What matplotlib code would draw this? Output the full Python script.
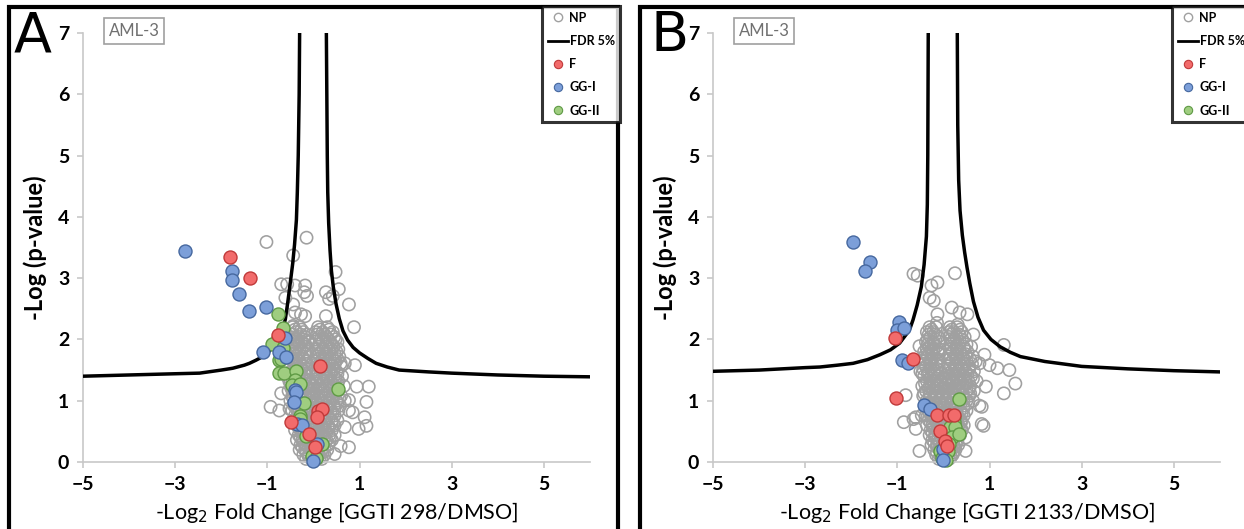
import matplotlib
matplotlib.use("Agg")
import matplotlib.pyplot as plt
from matplotlib.lines import Line2D
from matplotlib.patches import Rectangle

# ---- data -----------------------------------------------------------------
# colored hits, (x, y) = (-log2 FC, -log p)
f_a = [(-1.82, 3.35), (-1.37, 3.01), (-0.76, 2.07), (0.15, 1.57), (-0.48, 0.66),
       (0.10, 0.84), (0.18, 0.87), (0.08, 0.74), (-0.09, 0.46), (0.03, 0.24)]
ggi_a = [(-2.79, 3.45), (-1.76, 3.12), (-1.76, 2.97), (-1.61, 2.74), (-1.39, 2.46),
         (-1.02, 2.53), (-1.10, 1.80), (-0.61, 2.02), (-0.74, 1.80), (-0.59, 1.72),
         (-0.40, 1.17), (-0.37, 1.14), (-0.42, 0.98), (-0.35, 0.62), (-0.25, 0.61),
         (0.08, 0.29), (-0.01, 0.02)]
ggii_a = [(-0.77, 2.42), (-0.65, 2.18), (-0.78, 2.02), (-0.71, 1.97), (-0.90, 1.92),
          (-0.65, 1.86), (-0.74, 1.67), (-0.71, 1.68), (-0.74, 1.46), (-0.63, 1.46),
          (-0.37, 1.48), (-0.40, 1.34), (-0.46, 1.26), (-0.30, 1.28), (-0.20, 0.97),
          (-0.29, 0.75), (-0.29, 0.70), (-0.17, 0.43), (0.18, 0.29), (-0.04, 0.09),
          (0.06, 0.06), (0.53, 1.19)]

f_b = [(-1.06, 2.02), (-0.65, 1.68), (-1.04, 1.05), (-0.15, 0.77), (0.12, 0.77),
       (0.22, 0.76), (-0.08, 0.51), (0.03, 0.35), (0.07, 0.26)]
ggi_b = [(-1.96, 3.59), (-1.59, 3.27), (-1.70, 3.12), (-0.97, 2.29), (-1.00, 2.16),
         (-0.86, 2.19), (-0.91, 1.67), (-0.78, 1.61), (-0.42, 0.93), (-0.30, 0.87),
         (-0.02, 0.21), (-0.02, 0.04)]
ggii_b = [(0.33, 1.03), (0.22, 0.73), (0.22, 0.65), (0.15, 0.57), (0.25, 0.57),
          (0.18, 0.40), (0.33, 0.45), (0.13, 0.29), (-0.08, 0.18), (0.01, 0.13),
          (0.09, 0.18), (-0.04, 0.07), (0.05, 0.04)]

# non-significant proteins: scattered outliers + the dense cloud (row: y, xs)
np_a_out = [(-1.02, 3.59), (-0.15, 3.66), (-0.44, 3.37), (0.48, 3.10), (-0.70, 2.90),
            (-0.57, 2.90), (-0.40, 2.88), (-0.18, 2.88), (-0.20, 2.77), (-0.14, 2.71),
            (0.27, 2.77), (0.34, 2.66), (0.42, 2.71), (0.55, 2.82), (0.77, 2.57),
            (-0.61, 2.68), (-0.44, 2.57), (-0.40, 2.44), (-0.27, 2.41), (-0.18, 2.38),
            (0.27, 2.38), (0.88, 2.20), (-0.44, 2.22), (0.59, 1.61), (0.68, 1.61),
            (0.90, 1.58), (0.94, 1.23), (1.20, 1.23), (1.15, 0.98), (0.77, 1.01),
            (0.77, 0.84), (0.85, 0.81), (1.11, 0.73), (1.15, 0.59), (0.98, 0.54),
            (0.68, 0.57), (0.77, 0.24), (0.59, 0.26), (0.46, 0.13), (-0.93, 0.90),
            (-0.74, 0.84), (-0.52, 0.87), (-0.70, 1.12), (-0.52, 1.31)]
np_a_rows = [
    (2.20, [-0.45, -0.30, 0.10, 0.30]),
    (2.16, [-0.40, -0.26, 0.14, 0.34]),
    (2.12, [-0.38, -0.22, 0.05, 0.20, 0.42]),
    (2.08, [-0.44, -0.28, -0.14, 0.08, 0.24, 0.38]),
    (2.04, [-0.50, -0.32, -0.18, 0.12, 0.28, 0.45]),
    (2.00, [-0.36, -0.20, 0.06, 0.16, 0.32, 0.48]),
    (1.96, [-0.42, -0.26, -0.12, 0.04, 0.20, 0.36, 0.52]),
    (1.92, [-0.48, -0.32, -0.18, 0.12, 0.28, 0.40]),
    (1.88, [-0.55, -0.36, -0.20, 0.10, 0.26, 0.44]),
    (1.84, [-0.40, -0.26, -0.12, 0.08, 0.22, 0.38, 0.54]),
    (1.80, [-0.46, -0.30, -0.14, 0.06, 0.18, 0.34, 0.50]),
    (1.76, [-0.44, -0.32, -0.18, 0.12, 0.28, 0.46]),
    (1.72, [-0.52, -0.38, -0.24, 0.08, 0.24, 0.40, 0.56]),
    (1.68, [-0.48, -0.36, -0.22, 0.10, 0.20, 0.36, 0.52]),
    (1.64, [-0.44, -0.30, -0.16, 0.06, 0.16, 0.32, 0.48]),
    (1.60, [-0.40, -0.28, -0.14, 0.08, 0.20, 0.34, 0.46]),
    (1.56, [-0.56, -0.36, -0.22, 0.10, 0.24, 0.40, 0.60]),
    (1.52, [-0.52, -0.40, -0.26, -0.14, 0.14, 0.28, 0.44]),
    (1.48, [-0.48, -0.32, -0.18, 0.06, 0.20, 0.34, 0.50]),
    (1.44, [-0.44, -0.30, -0.20, 0.08, 0.22, 0.38, 0.52]),
    (1.40, [-0.58, -0.40, -0.26, -0.14, 0.14, 0.28, 0.44, 0.62]),
    (1.36, [-0.46, -0.32, -0.18, 0.06, 0.18, 0.32, 0.48]),
    (1.32, [-0.50, -0.34, -0.20, 0.08, 0.22, 0.38, 0.54]),
    (1.28, [-0.38, -0.24, -0.10, 0.04, 0.18, 0.34, 0.52]),
    (1.24, [-0.44, -0.28, -0.14, 0.00, 0.14, 0.30, 0.46, 0.66]),
    (1.20, [-0.48, -0.30, -0.16, -0.02, 0.10, 0.26, 0.42]),
    (1.16, [-0.54, -0.36, -0.22, -0.08, 0.06, 0.20, 0.36, 0.52]),
    (1.12, [-0.40, -0.26, -0.12, 0.02, 0.16, 0.32, 0.46]),
    (1.08, [-0.46, -0.30, -0.16, -0.02, 0.12, 0.26, 0.42, 0.60]),
    (1.04, [-0.44, -0.30, -0.18, -0.04, 0.10, 0.24, 0.40, 0.56]),
    (1.00, [-0.50, -0.38, -0.24, -0.10, 0.04, 0.18, 0.34, 0.50, 0.68]),
    (0.96, [-0.34, -0.20, -0.06, 0.08, 0.22, 0.36, 0.52]),
    (0.92, [-0.42, -0.28, -0.14, 0.00, 0.14, 0.28, 0.44, 0.58]),
    (0.88, [-0.38, -0.26, -0.12, 0.04, 0.18, 0.32, 0.46]),
    (0.84, [-0.46, -0.34, -0.20, -0.06, 0.08, 0.22, 0.38, 0.54]),
    (0.80, [-0.32, -0.18, -0.02, 0.12, 0.26, 0.42]),
    (0.76, [-0.40, -0.26, -0.12, 0.02, 0.16, 0.30, 0.46]),
    (0.72, [-0.36, -0.22, -0.08, 0.06, 0.20, 0.34]),
    (0.68, [-0.44, -0.30, -0.16, -0.04, 0.10, 0.24, 0.40, 0.52]),
    (0.64, [-0.30, -0.16, -0.02, 0.12, 0.26, 0.40]),
    (0.60, [-0.36, -0.22, -0.10, 0.04, 0.18, 0.32, 0.46]),
    (0.56, [-0.32, -0.18, -0.06, 0.08, 0.20, 0.34]),
    (0.52, [-0.40, -0.26, -0.14, 0.00, 0.12, 0.26, 0.40]),
    (0.48, [-0.26, -0.12, 0.02, 0.16, 0.28]),
    (0.44, [-0.32, -0.20, -0.06, 0.08, 0.20, 0.34, 0.46]),
    (0.40, [-0.28, -0.16, -0.02, 0.12, 0.24, 0.36]),
    (0.36, [-0.36, -0.24, -0.12, 0.02, 0.14, 0.28, 0.40]),
    (0.32, [-0.22, -0.08, 0.04, 0.16, 0.26]),
    (0.28, [-0.28, -0.16, -0.04, 0.08, 0.20, 0.32]),
    (0.24, [-0.24, -0.10, 0.02, 0.14, 0.24]),
    (0.20, [-0.30, -0.18, -0.06, 0.06, 0.18, 0.30]),
    (0.16, [-0.16, -0.02, 0.10, 0.20]),
    (0.12, [-0.22, -0.10, 0.02, 0.12, 0.24]),
    (0.08, [-0.10, 0.02, 0.14]),
    (0.05, [-0.16, -0.04, 0.08, 0.18]),
]

np_b_out = [(-0.65, 3.07), (-0.56, 3.04), (0.25, 3.08), (-0.13, 2.93), (-0.26, 2.88),
            (-0.30, 2.68), (-0.21, 2.63), (-0.13, 2.41), (-0.14, 2.27), (0.18, 2.52),
            (0.35, 2.44), (0.52, 2.41), (0.31, 2.24), (0.65, 2.08), (1.31, 1.91),
            (0.89, 1.75), (0.78, 1.61), (1.00, 1.58), (1.17, 1.53), (1.43, 1.50),
            (1.56, 1.28), (1.31, 1.12), (0.92, 1.23), (0.78, 0.92), (0.83, 0.90),
            (0.83, 0.62), (0.87, 0.59), (0.48, 0.40), (-0.86, 0.65), (-0.82, 1.09),
            (-0.60, 0.73), (-0.65, 0.70), (-0.47, 0.76), (-0.60, 0.54), (-0.52, 0.18),
            (0.48, 0.18), (-0.52, 1.89)]
np_b_rows = [
    (2.20, [-0.30, -0.16, 0.14, 0.30]),
    (2.16, [-0.26, 0.18, 0.36]),
    (2.12, [-0.36, -0.22, 0.12, 0.22, 0.40]),
    (2.08, [-0.32, -0.18, 0.16, 0.34]),
    (2.04, [-0.28, -0.12, 0.12, 0.28, 0.46]),
    (2.00, [-0.34, -0.18, 0.16, 0.24, 0.40]),
    (1.96, [-0.38, -0.22, -0.08, 0.20, 0.36]),
    (1.92, [-0.34, -0.20, 0.16, 0.32, 0.50]),
    (1.88, [-0.30, -0.16, 0.12, 0.28, 0.44, 0.60]),
    (1.84, [-0.36, -0.22, -0.08, 0.16, 0.30, 0.46]),
    (1.80, [-0.42, -0.26, -0.12, 0.20, 0.36, 0.52]),
    (1.76, [-0.38, -0.24, -0.10, 0.14, 0.30, 0.48]),
    (1.72, [-0.34, -0.20, 0.10, 0.26, 0.42, 0.64]),
    (1.68, [-0.40, -0.26, -0.12, 0.14, 0.28, 0.44, 0.58]),
    (1.64, [-0.46, -0.30, -0.14, 0.18, 0.34, 0.50, 0.70]),
    (1.60, [-0.42, -0.28, -0.16, 0.12, 0.28, 0.44, 0.62]),
    (1.56, [-0.38, -0.24, -0.10, 0.10, 0.24, 0.40, 0.56]),
    (1.52, [-0.44, -0.28, -0.14, 0.12, 0.26, 0.40, 0.56]),
    (1.48, [-0.50, -0.32, -0.18, 0.18, 0.32, 0.48, 0.66]),
    (1.44, [-0.46, -0.34, -0.20, -0.06, 0.10, 0.22, 0.36, 0.52]),
    (1.40, [-0.42, -0.26, -0.12, 0.14, 0.28, 0.44, 0.60]),
    (1.36, [-0.30, -0.16, 0.06, 0.18, 0.32, 0.48, 0.64]),
    (1.32, [-0.36, -0.20, -0.06, 0.12, 0.22, 0.38, 0.54, 0.72]),
    (1.28, [-0.40, -0.26, -0.12, 0.04, 0.18, 0.34, 0.50]),
    (1.24, [-0.46, -0.30, -0.16, 0.12, 0.26, 0.42, 0.58]),
    (1.20, [-0.32, -0.18, -0.04, 0.10, 0.24, 0.40, 0.56]),
    (1.16, [-0.38, -0.24, -0.10, 0.04, 0.18, 0.34, 0.50, 0.66]),
    (1.12, [-0.42, -0.30, -0.16, -0.02, 0.12, 0.26, 0.42, 0.58]),
    (1.08, [-0.44, -0.30, -0.16, -0.02, 0.12, 0.26, 0.42, 0.56]),
    (1.04, [-0.30, -0.16, -0.02, 0.14, 0.28, 0.44]),
    (1.00, [-0.36, -0.22, -0.08, 0.06, 0.20, 0.36, 0.50, 0.64]),
    (0.96, [-0.34, -0.20, -0.06, 0.08, 0.22, 0.38, 0.54]),
    (0.92, [-0.40, -0.28, -0.14, 0.00, 0.14, 0.28, 0.44]),
    (0.88, [-0.28, -0.12, 0.02, 0.16, 0.30, 0.44]),
    (0.84, [-0.34, -0.20, -0.06, 0.08, 0.22, 0.36, 0.50]),
    (0.80, [-0.30, -0.16, -0.02, 0.12, 0.26, 0.40]),
    (0.76, [-0.38, -0.26, -0.12, 0.02, 0.16, 0.30, 0.44]),
    (0.72, [-0.26, -0.12, 0.04, 0.18, 0.32]),
    (0.68, [-0.32, -0.18, -0.04, 0.10, 0.24, 0.38]),
    (0.64, [-0.28, -0.14, 0.00, 0.14, 0.28, 0.38]),
    (0.60, [-0.36, -0.24, -0.10, 0.04, 0.18, 0.32, 0.44]),
    (0.56, [-0.22, -0.08, 0.08, 0.22, 0.36]),
    (0.52, [-0.28, -0.14, 0.00, 0.14, 0.28, 0.40]),
    (0.48, [-0.24, -0.10, 0.04, 0.18, 0.32]),
    (0.44, [-0.30, -0.18, -0.04, 0.10, 0.22, 0.36]),
    (0.40, [-0.18, -0.06, 0.08, 0.22]),
    (0.36, [-0.24, -0.12, 0.02, 0.16, 0.30]),
    (0.32, [-0.20, -0.08, 0.06, 0.18, 0.28]),
    (0.28, [-0.26, -0.14, -0.02, 0.10, 0.22, 0.32]),
    (0.24, [-0.14, -0.02, 0.12, 0.24]),
    (0.20, [-0.20, -0.08, 0.04, 0.16, 0.26]),
    (0.16, [-0.14, -0.02, 0.10, 0.22]),
    (0.12, [-0.16, -0.04, 0.08, 0.20]),
    (0.08, [-0.06, 0.06, 0.16]),
    (0.05, [-0.10, 0.02, 0.12]),
]

# FDR 5% threshold curves, left and right branches
fdr_a_left = [(-5, 1.40), (-4, 1.42), (-3, 1.44), (-2.47, 1.45), (-2.0, 1.50),
              (-1.75, 1.53), (-1.5, 1.58), (-1.39, 1.61), (-1.25, 1.66), (-1.10, 1.72),
              (-0.98, 1.79), (-0.88, 1.88), (-0.78, 1.98), (-0.72, 2.06), (-0.67, 2.15),
              (-0.61, 2.33), (-0.56, 2.59), (-0.51, 2.88), (-0.45, 3.24), (-0.41, 3.55),
              (-0.37, 3.95), (-0.35, 4.4), (-0.33, 5.0), (-0.31, 6.0), (-0.30, 7.0)]
fdr_a_right = [(0.28, 7.0), (0.29, 6.0), (0.30, 5.0), (0.31, 4.4), (0.33, 3.90),
               (0.36, 3.45), (0.39, 3.12), (0.43, 2.86), (0.49, 2.58), (0.56, 2.34),
               (0.64, 2.14), (0.74, 1.99), (0.86, 1.87), (1.0, 1.78), (1.18, 1.69),
               (1.36, 1.61), (1.6, 1.55), (1.86, 1.50), (2.5, 1.47), (3, 1.45),
               (4, 1.42), (5, 1.40), (6, 1.39)]
fdr_b_left = [(-5, 1.48), (-4, 1.50), (-3, 1.54), (-2.68, 1.55), (-2.3, 1.58),
              (-1.96, 1.61), (-1.65, 1.67), (-1.38, 1.75), (-1.15, 1.83), (-0.95, 1.94),
              (-0.80, 2.09), (-0.72, 2.19), (-0.66, 2.32), (-0.57, 2.56), (-0.48, 2.86),
              (-0.42, 3.22), (-0.37, 3.68), (-0.35, 4.2), (-0.34, 5.0), (-0.33, 7.0)]
fdr_b_right = [(0.30, 7.0), (0.31, 5.5), (0.33, 4.6), (0.36, 4.1), (0.41, 3.7),
               (0.46, 3.42), (0.51, 3.18), (0.57, 2.92), (0.65, 2.62), (0.75, 2.36),
               (0.87, 2.15), (1.03, 2.00), (1.23, 1.88), (1.45, 1.79), (1.67, 1.72),
               (2.2, 1.64), (3, 1.56), (4, 1.52), (5, 1.49), (6, 1.47)]

xticks = [-5, -3, -1, 1, 3, 5]
yticks = [0, 1, 2, 3, 4, 5, 6, 7]

GREY = "#a0a0a0"
RED, RED_E = "#f26b6b", "#c03a3a"
BLUE, BLUE_E = "#7c9fd9", "#46689f"
GREEN, GREEN_E = "#9fcd80", "#5f9a45"
FONT = "Lato"

W, H = 1244, 529
fig = plt.figure(figsize=(W / 100, H / 100), dpi=100)


def fx(px):
    return px / W


def fy(py):
    return 1 - py / H


def xy(pts):
    return [p[0] for p in pts], [p[1] for p in pts]


def draw_panel(left_px, letter, letter_px, np_out, np_rows, f, ggi, ggii,
               fdr_l, fdr_r, xlabel):
    ax = fig.add_axes([fx(left_px), fy(462), fx(507), 429 / H])
    ax.set_xlim(-5, 6)
    ax.set_ylim(0, 7)

    nx, ny = xy(np_out)
    for yv, xs in np_rows:
        nx += xs
        ny += [yv] * len(xs)
    ax.scatter(nx, ny, s=78, facecolors="none", edgecolors=GREY, linewidths=1.15,
               zorder=2, clip_on=False)
    for br in (fdr_l, fdr_r):
        bx, by = xy(br)
        ax.plot(bx, by, color="black", lw=2.5, zorder=3, solid_joinstyle="round")
    for pts, fc, ec in ((ggii, GREEN, GREEN_E), (ggi, BLUE, BLUE_E), (f, RED, RED_E)):
        px, py = xy(pts)
        ax.scatter(px, py, s=88, facecolors=fc, edgecolors=ec, linewidths=1.0,
                   zorder=4, clip_on=False)

    for side in ("top", "right"):
        ax.spines[side].set_visible(False)
    for side in ("left", "bottom"):
        ax.spines[side].set_color("#c8c8c8")
        ax.spines[side].set_linewidth(1.2)
    ax.set_xticks(xticks)
    ax.set_yticks(yticks)
    ax.tick_params(colors="#c8c8c8", length=4, width=1.2, labelcolor="black",
                   labelsize=14, pad=6)
    for lab in ax.get_xticklabels() + ax.get_yticklabels():
        lab.set_fontweight("bold")
        lab.set_family(FONT)
    ax.set_xlabel(xlabel, fontsize=15.5, family=FONT, labelpad=5)
    ax.set_ylabel("-Log (p-value)", fontsize=17, fontweight="bold", family=FONT,
                  labelpad=8)

    fig.text(fx(letter_px), fy(36), letter, fontsize=40, family="DejaVu Sans",
             va="center", ha="left")
    fig.text(fx(left_px + 51), fy(31), "AML-3", fontsize=12, color="#707070",
             family=FONT, ha="center", va="center",
             bbox=dict(boxstyle="square,pad=0.3", fc="white", ec="#a0a0a0", lw=1.2))

    handles = [
        Line2D([], [], ls="none", marker="o", ms=6, mfc="none", mec=GREY, mew=1),
        Line2D([], [], color="black", lw=2),
        Line2D([], [], ls="none", marker="o", ms=6, mfc=RED, mec=RED_E, mew=0.8),
        Line2D([], [], ls="none", marker="o", ms=6, mfc=BLUE, mec=BLUE_E, mew=0.8),
        Line2D([], [], ls="none", marker="o", ms=6, mfc=GREEN, mec=GREEN_E, mew=0.8),
    ]
    leg = fig.legend(handles, ["NP", "FDR 5%", "F", "GG-I", "GG-II"],
                     loc="upper left", bbox_to_anchor=(fx(left_px + 459), fy(6)),
                     frameon=True, fancybox=False, handlelength=1.6,
                     handletextpad=0.15, labelspacing=0.9, borderpad=0.45,
                     borderaxespad=0, prop=dict(family=FONT, weight="bold", size=9))
    leg.get_frame().set_edgecolor("black")
    leg.get_frame().set_linewidth(2.2)
    return ax


draw_panel(83, "A", 14, np_a_out, np_a_rows, f_a, ggi_a, ggii_a,
           fdr_a_left, fdr_a_right, "-Log$_2$ Fold Change [GGTI 298/DMSO]")
draw_panel(713, "B", 650, np_b_out, np_b_rows, f_b, ggi_b, ggii_b,
           fdr_b_left, fdr_b_right, "-Log$_2$ Fold Change [GGTI 2133/DMSO]")

# thick panel frames
for x0, x1 in ((9, 618), (640, 1252)):
    fig.add_artist(Rectangle((fx(x0), fy(540)), fx(x1 - x0), (540 - 7) / H,
                             fill=False, ec="black", lw=3.0,
                             transform=fig.transFigure, zorder=0))

fig.savefig("out.png", dpi=100)
